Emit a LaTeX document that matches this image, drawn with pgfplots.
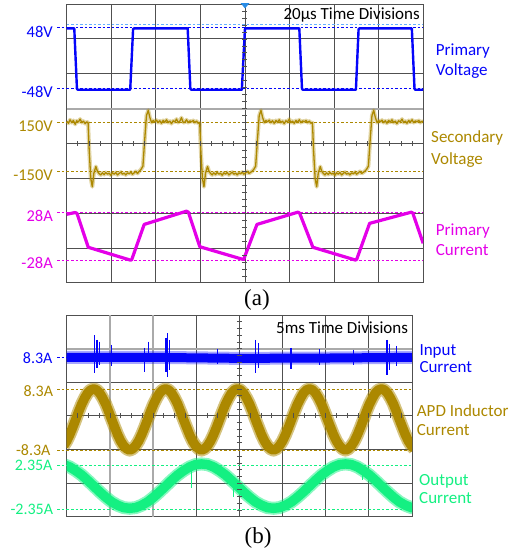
\documentclass[border=0pt]{standalone}
\usepackage{fontspec}
\setmainfont{Carlito}
\newfontfamily\seriffont{Liberation Serif}
\usepackage{pgfplots}
\pgfplotsset{compat=1.18}
\definecolor{pv}{RGB}{5,5,250}
\definecolor{sv}{RGB}{172,136,0}
\definecolor{pc}{RGB}{228,0,232}
\definecolor{oc}{RGB}{20,240,130}
\definecolor{grd}{RGB}{80,80,80}
\definecolor{lgrd}{RGB}{170,170,170}
\definecolor{trig}{RGB}{100,175,255}
\definecolor{trigm}{RGB}{40,140,230}
\newcommand\lbl{\fontsize{16.5bp}{19bp}\selectfont}
\newcommand\lblb{\fontsize{16bp}{19bp}\selectfont}
\newcommand\rlbl{\fontsize{17bp}{20bp}\selectfont}
\begin{document}
\begin{tikzpicture}
\useasboundingbox (0bp,0bp) rectangle (516bp,-552bp);
% ---------------- (a) ----------------
\begin{axis}[
 at={(66.7bp,-4bp)}, anchor=north west,
 scale only axis, width=356.5bp, height=279bp,
 xmin=0, xmax=160, ymin=-4, ymax=4,
 xtick={20,40,...,140}, ytick={-3,-2,...,3},
 xticklabels={}, yticklabels={},
 ticklabel style={opacity=0},
 major tick length=0pt,
 grid=major, grid style={grd, line width=0.8bp},
 axis line style={grd, line width=1bp},
 clip=true,
]
\draw[lgrd, line width=2bp] (axis cs:0,1) -- (axis cs:160,1);
% reference levels
\addplot[trig, line width=0.7bp, dash pattern=on 2.5bp off 2bp] coordinates {(0,3.41) (160,3.41)};
\addplot[pv, line width=0.7bp, dash pattern=on 2.5bp off 2bp] coordinates {(0,3.34) (160,3.34)};
\addplot[pv, line width=0.7bp, dash pattern=on 2.5bp off 2bp] coordinates {(0,1.583) (160,1.583)};
\addplot[sv, line width=0.7bp, dash pattern=on 2.5bp off 2bp] coordinates {(0,0.607) (160,0.607)};
\addplot[sv, line width=0.7bp, dash pattern=on 2.5bp off 2bp] coordinates {(0,-0.809) (160,-0.809)};
\addplot[pc, line width=0.7bp, dash pattern=on 2.5bp off 2bp] coordinates {(0,-1.97) (160,-1.97)};
\addplot[pc, line width=0.7bp, dash pattern=on 2.5bp off 2bp] coordinates {(0,-3.34) (160,-3.34)};
% primary voltage
\addplot[pv, line width=2.4bp, line join=round] coordinates {
(0,3.30) (3.4,3.30) (4.6,1.57) (5,1.54) (28.5,1.54) (29.8,3.28) (30.2,3.30) (54.3,3.30) (55.5,1.57) (56,1.54)
(78.6,1.54) (80,3.28) (80.4,3.30) (104.4,3.30) (105.6,1.57) (106,1.54) (129.8,1.54) (131,3.28) (131.4,3.30)
(154.9,3.30) (156.1,1.57) (156.5,1.54) (160,1.54)};
% secondary voltage (fuzz + core)
\pgfplotstableread{
t v
0 0.64
0.8 0.58
1.5 0.68
2.3 0.6
3.0 0.66
3.8 0.55
4.5 0.65
5.3 0.62
6.0 0.7
6.8 0.6
7.5 0.64
8.3 0.57
9.0 0.62
9.6 0.6
10.1 -0.2
10.8 -1.0
11.5 -1.24
12.2 -0.85
13.1 -0.66
13.8 -0.8
14.5 -0.86
15.3 -0.9
16 -0.84
16.8 -0.89
17.5 -0.83
18.3 -0.88
19 -0.85
19.8 -0.91
20.5 -0.84
21.3 -0.88
22 -0.83
22.8 -0.9
23.5 -0.86
24.3 -0.82
25 -0.88
25.8 -0.85
26.5 -0.9
27.3 -0.84
28 -0.87
28.8 -0.82
29.5 -0.88
30.3 -0.84
31 -0.8
31.8 -0.86
32.5 -0.8
33.3 -0.75
34.2 -0.65
35.0 0.1
35.8 0.8
36.6 0.95
37.3 0.75
38.1 0.6
38.8 0.66
39.5 0.62
40.3 0.67
41 0.6
41.8 0.65
42.5 0.58
43.3 0.66
44 0.61
44.8 0.68
45.5 0.6
46.3 0.64
47 0.57
47.8 0.65
48.5 0.62
49.3 0.7
50 0.6
50.8 0.64
51.5 0.74
52.3 0.6
53 0.61
53.8 0.68
54.5 0.6
55.3 0.65
56 0.62
56.8 0.66
57.5 0.6
58.3 0.64
59.0 0.58
59.7 0.6
60.2 -0.2
60.9 -1.0
61.6 -1.24
62.3 -0.85
63.2 -0.66
63.9 -0.8
64.6 -0.86
65.3 -0.9
66 -0.84
66.8 -0.89
67.5 -0.83
68.3 -0.88
69 -0.85
69.8 -0.91
70.5 -0.84
71.3 -0.88
72 -0.83
72.8 -0.9
73.5 -0.86
74.3 -0.82
75 -0.88
75.8 -0.85
76.5 -0.9
77.3 -0.84
78 -0.87
78.8 -0.82
79.5 -0.88
80.3 -0.84
81 -0.8
81.8 -0.86
83.1 -0.8
83.9 -0.75
84.8 -0.65
85.6 0.1
86.4 0.8
87.2 0.95
87.9 0.75
88.7 0.6
89.4 0.66
90.1 0.62
90.9 0.67
91.6 0.6
92.4 0.65
93.1 0.58
93.9 0.66
94.6 0.61
95.4 0.68
96.1 0.6
96.9 0.64
97.6 0.57
98.4 0.65
99.1 0.62
99.9 0.7
100.6 0.6
101.4 0.64
102.1 0.58
102.9 0.66
103.6 0.61
104.4 0.68
105.1 0.6
105.9 0.65
106.6 0.62
107.4 0.66
108.1 0.6
108.9 0.64
109.6 0.58
110.3 0.6
110.8 -0.2
111.5 -1.0
112.2 -1.24
112.9 -0.85
113.8 -0.66
114.5 -0.8
115.2 -0.86
115.9 -0.9
116.6 -0.84
117.4 -0.89
118.1 -0.83
118.9 -0.88
119.6 -0.85
120.4 -0.91
121.1 -0.84
121.9 -0.88
122.6 -0.83
123.4 -0.9
124.1 -0.86
124.9 -0.82
125.6 -0.88
126.4 -0.85
127.1 -0.9
127.9 -0.84
128.6 -0.87
129.4 -0.82
130.1 -0.88
130.9 -0.84
131.6 -0.8
132.4 -0.86
133.7 -0.8
134.5 -0.75
135.4 -0.65
136.2 0.1
137 0.8
137.8 0.95
138.5 0.75
139.3 0.6
140 0.66
140.7 0.62
141.5 0.67
142.2 0.6
143 0.65
143.7 0.58
144.5 0.66
145.2 0.61
146 0.68
146.7 0.6
147.5 0.64
148.2 0.57
149 0.65
149.7 0.62
150.5 0.7
151.2 0.6
152 0.64
152.7 0.58
153.5 0.66
154.2 0.61
155 0.68
155.7 0.6
156.5 0.65
157.2 0.62
158 0.66
158.7 0.6
159.5 0.64
160 0.62
}\secv
\addplot[sv, opacity=0.35, line width=4bp, line join=round] table[x=t,y=v] {\secv};
\addplot[sv, line width=1.3bp, line join=round] table[x=t,y=v] {\secv};
% primary current
\addplot[pc, line width=3.2bp, line join=round] coordinates {
(0,-2.03) (3.72,-1.98) (4.6,-2.0) (9.68,-2.976) (28.37,-3.34) (29.13,-3.34) (34.78,-2.32) (53.79,-1.94)
(54.6,-1.97) (59.75,-2.96) (78.9,-3.32) (79.5,-3.31) (85.4,-2.32) (103.7,-1.97) (104.5,-1.99) (110.5,-2.976)
(129.5,-3.34) (130.1,-3.33) (135.95,-2.29) (154.6,-1.97) (155.3,-1.99) (159.7,-2.81) (160,-2.86)};
\end{axis}
% center minor ticks (a)
\foreach \i in {1,...,39} {\draw[grd, line width=0.7bp] (242.45bp,{-(4+\i*6.975)*1bp}) -- (247.45bp,{-(4+\i*6.975)*1bp});}
\foreach \i in {1,...,31} {\draw[grd, line width=0.7bp] ({(66.7+\i*11.14)*1bp},-141bp) -- ({(66.7+\i*11.14)*1bp},-146bp);}
\fill[trigm] (240.5bp,-3bp) -- (249.5bp,-3bp) -- (245bp,-8.5bp) -- cycle;
% leaders (a)
\foreach \yy/\cc in {27/pv,88.3/pv,122.3/sv,171.7/sv,212.3/pc,260/pc} {\draw[\cc, line width=0.7bp, dash pattern=on 2.5bp off 2bp] (57bp,-\yy bp) -- (66.7bp,-\yy bp);}
% labels (a)
\node[anchor=base east, inner sep=0, text=pv, font=\lbl] at (53bp,-37.3bp) {48V};
\node[anchor=base east, inner sep=0, text=pv, font=\lbl] at (53bp,-97bp) {-48V};
\node[anchor=base east, inner sep=0, text=sv, font=\lbl] at (53bp,-131bp) {150V};
\node[anchor=base east, inner sep=0, text=sv, font=\lbl] at (53bp,-180.5bp) {-150V};
\node[anchor=base east, inner sep=0, text=pc, font=\lbl] at (53bp,-221.2bp) {28A};
\node[anchor=base east, inner sep=0, text=pc, font=\lbl] at (53bp,-268.9bp) {-28A};
\node[anchor=base east, inner sep=0, font=\rlbl] at (420bp,-19.5bp) {20µs Time Divisions};
\node[anchor=base west, inner sep=0, text=pv, font=\rlbl] at (435.7bp,-55.5bp) {Primary};
\node[anchor=base west, inner sep=0, text=pv, font=\rlbl] at (435.7bp,-75bp) {Voltage};
\node[anchor=base west, inner sep=0, text=sv, font=\rlbl] at (431bp,-142.7bp) {Secondary};
\node[anchor=base west, inner sep=0, text=sv, font=\rlbl] at (431bp,-164.3bp) {Voltage};
\node[anchor=base west, inner sep=0, text=pc, font=\rlbl] at (435.7bp,-235bp) {Primary};
\node[anchor=base west, inner sep=0, text=pc, font=\rlbl] at (435.7bp,-255bp) {Current};
\node[anchor=base, inner sep=0, font=\seriffont\fontsize{23bp}{26bp}\selectfont] at (257bp,-305bp) {(a)};
% ---------------- (b) ----------------
\begin{axis}[
 at={(66.7bp,-315bp)}, anchor=north west,
 scale only axis, width=345.3bp, height=201.7bp,
 xmin=0, xmax=40, ymin=-3, ymax=3,
 xtick={5,10,...,35}, ytick={-2,-1,...,2},
 xticklabels={}, yticklabels={},
 ticklabel style={opacity=0},
 major tick length=0pt,
 grid=major, grid style={grd, line width=0.8bp},
 axis line style={grd, line width=1bp},
 clip=true, unbounded coords=jump,
]
\draw[lgrd, line width=2bp] (axis cs:0,2) -- (axis cs:40,2);
\draw[lgrd, line width=2bp] (axis cs:5,-3) -- (axis cs:5,3);
\draw[lgrd, line width=1.6bp] (axis cs:10,-3) -- (axis cs:10,3);
\addplot[pv, line width=0.7bp, dash pattern=on 2.5bp off 2bp] coordinates {(0,1.742) (40,1.742)};
\addplot[sv, line width=0.7bp, dash pattern=on 2.5bp off 2bp] coordinates {(0,0.79) (40,0.79)};
\addplot[sv, line width=0.7bp, dash pattern=on 2.5bp off 2bp] coordinates {(0,-1.015) (40,-1.015)};
\addplot[oc, line width=0.7bp, dash pattern=on 2.5bp off 2bp] coordinates {(0,-1.462) (40,-1.462)};
\addplot[oc, line width=0.7bp, dash pattern=on 2.5bp off 2bp] coordinates {(0,-2.78) (40,-2.78)};
% input current
\addplot[pv, opacity=0.35, line width=13bp] coordinates {(0,1.74) (10,1.74) (20,1.71) (30,1.72) (40,1.74)};
\addplot[pv, line width=9bp] coordinates {(0,1.74) (10,1.74) (20,1.71) (30,1.72) (40,1.74)};
\addplot[pv, line width=1.3bp] coordinates {
(3.2,2.40) (3.2,1.27) (nan,nan) (3.5,2.26) (3.5,1.42) (nan,nan) (3.8,2.21) (3.8,1.51) (nan,nan)
(5.2,2.11) (5.2,1.48) (nan,nan) (9.05,2.02) (9.05,1.31) (nan,nan) (9.45,2.21) (9.45,1.6) (nan,nan)
(11.5,2.32) (11.5,1.3) (nan,nan) (11.7,2.46) (11.7,1.17) (nan,nan) (11.9,2.26) (11.9,1.36) (nan,nan)
(17.5,2.0) (17.5,1.55) (nan,nan) (21.9,2.26) (21.9,1.27) (nan,nan) (22.2,2.17) (22.2,1.42) (nan,nan)
(26.0,2.02) (26.0,1.39) (nan,nan) (29.3,1.98) (29.3,1.5) (nan,nan) (33.2,1.97) (33.2,1.5) (nan,nan)
(37.1,2.26) (37.1,1.22) (nan,nan) (37.4,2.14) (37.4,1.35) (nan,nan) (38.2,2.08) (38.2,1.48)};
% APD inductor current
\pgfplotstableread{
t v
-0.35 -0.89
0.00 -0.75
0.35 -0.56
0.70 -0.34
1.04 -0.11
1.39 0.13
1.74 0.35
2.08 0.53
2.43 0.68
2.78 0.77
3.13 0.80
3.47 0.77
3.82 0.68
4.17 0.53
4.52 0.35
4.86 0.13
5.21 -0.11
5.56 -0.34
5.90 -0.56
6.25 -0.75
6.60 -0.89
6.95 -0.98
7.29 -1.02
7.64 -0.98
7.98 -0.89
8.33 -0.75
8.68 -0.56
9.03 -0.34
9.37 -0.11
9.72 0.13
10.07 0.35
10.42 0.53
10.76 0.68
11.11 0.77
11.46 0.80
11.80 0.77
12.15 0.68
12.50 0.53
12.85 0.35
13.19 0.13
13.54 -0.11
13.89 -0.34
14.23 -0.56
14.58 -0.75
14.93 -0.89
15.28 -0.98
15.62 -1.02
15.97 -0.98
16.31 -0.89
16.66 -0.75
17.01 -0.56
17.36 -0.34
17.70 -0.11
18.05 0.13
18.40 0.35
18.75 0.53
19.09 0.68
19.44 0.77
19.79 0.80
20.13 0.77
20.48 0.68
20.83 0.53
21.18 0.35
21.52 0.13
21.87 -0.11
22.22 -0.34
22.56 -0.56
22.91 -0.75
23.26 -0.89
23.61 -0.98
23.96 -1.02
24.31 -0.98
24.65 -0.89
25.00 -0.75
25.35 -0.56
25.70 -0.34
26.04 -0.11
26.39 0.13
26.74 0.35
27.09 0.53
27.43 0.68
27.78 0.77
28.13 0.80
28.47 0.77
28.82 0.68
29.17 0.53
29.52 0.35
29.86 0.13
30.21 -0.11
30.56 -0.34
30.90 -0.56
31.25 -0.75
31.60 -0.89
31.95 -0.98
32.29 -1.02
32.64 -0.98
32.98 -0.89
33.33 -0.75
33.68 -0.56
34.03 -0.34
34.37 -0.11
34.72 0.13
35.07 0.35
35.42 0.53
35.76 0.68
36.11 0.77
36.46 0.80
36.80 0.77
37.15 0.68
37.50 0.53
37.85 0.35
38.19 0.13
38.54 -0.11
38.89 -0.34
39.23 -0.56
39.58 -0.75
39.93 -0.89
40.28 -0.98
}\apd
\addplot[sv, opacity=0.5, line width=13bp, line join=round] table[x=t,y=v] {\apd};
\addplot[sv, line width=9.5bp, line join=round] table[x=t,y=v] {\apd};
% output current
\pgfplotstableread{
t v
-0.35 -1.45
0.35 -1.52
1.04 -1.63
1.74 -1.76
2.43 -1.92
3.13 -2.09
3.82 -2.26
4.52 -2.42
5.21 -2.56
5.90 -2.66
6.60 -2.73
7.29 -2.75
7.99 -2.73
8.68 -2.66
9.38 -2.56
10.07 -2.42
10.76 -2.26
11.46 -2.09
12.15 -1.92
12.85 -1.76
13.54 -1.63
14.24 -1.52
14.93 -1.45
15.62 -1.43
16.32 -1.45
17.01 -1.52
17.71 -1.63
18.40 -1.76
19.09 -1.92
19.79 -2.09
20.48 -2.26
21.18 -2.42
21.87 -2.56
22.57 -2.66
23.26 -2.73
23.96 -2.75
24.65 -2.73
25.35 -2.66
26.04 -2.56
26.73 -2.42
27.43 -2.26
28.12 -2.09
28.82 -1.92
29.51 -1.76
30.21 -1.63
30.90 -1.52
31.60 -1.45
32.29 -1.43
32.98 -1.45
33.68 -1.52
34.37 -1.63
35.07 -1.76
35.76 -1.92
36.46 -2.09
37.15 -2.26
37.85 -2.42
38.54 -2.56
39.23 -2.66
39.93 -2.73
40.62 -2.75
}\outc
\addplot[oc, opacity=0.5, line width=13bp, line join=round] table[x=t,y=v] {\outc};
\addplot[oc, line width=9.5bp, line join=round] table[x=t,y=v] {\outc};
\addplot[oc, line width=1.2bp] coordinates {
(14.5,-1.60) (14.5,-2.14) (nan,nan) (19.3,-2.0) (19.3,-2.42) (nan,nan) (28.1,-1.95) (28.1,-2.3) (nan,nan) (34.3,-1.55) (34.3,-1.9)};
\end{axis}
% center minor ticks (b)
\foreach \i in {1,...,29} {\draw[grd, line width=0.7bp] (236.85bp,{-(315+\i*6.723)*1bp}) -- (241.85bp,{-(315+\i*6.723)*1bp});}
\foreach \i in {1,...,31} {\draw[grd, line width=0.7bp] ({(66.7+\i*10.79)*1bp},-413.35bp) -- ({(66.7+\i*10.79)*1bp},-418.35bp);}
% leaders (b)
\foreach \yy/\cc in {357.3/pv,389.3/sv,450/sv,465/oc,509.3/oc} {\draw[\cc, line width=0.7bp, dash pattern=on 2.5bp off 2bp] (57bp,-\yy bp) -- (66.7bp,-\yy bp);}
% labels (b)
\node[anchor=base east, inner sep=0, text=pv, font=\lblb] at (52.7bp,-363.3bp) {8.3A};
\node[anchor=base east, inner sep=0, text=sv, font=\lblb] at (53.3bp,-396.7bp) {8.3A};
\node[anchor=base east, inner sep=0, text=sv, font=\lblb] at (50.7bp,-455.3bp) {-8.3A};
\node[anchor=base east, inner sep=0, text=oc, font=\lblb] at (52.7bp,-470.8bp) {2.35A};
\node[anchor=base east, inner sep=0, text=oc, font=\lblb] at (53.3bp,-514bp) {-2.35A};
\node[anchor=base west, inner sep=0, font=\rlbl] at (276bp,-333.3bp) {5ms Time Divisions};
\node[anchor=base west, inner sep=0, text=pv, font=\rlbl] at (419.3bp,-355bp) {Input};
\node[anchor=base west, inner sep=0, text=pv, font=\rlbl] at (419.3bp,-372.7bp) {Current};
\node[anchor=base west, inner sep=0, text=sv, font=\rlbl] at (416.7bp,-416.7bp) {APD Inductor};
\node[anchor=base west, inner sep=0, text=sv, font=\rlbl] at (416.7bp,-435bp) {Current};
\node[anchor=base west, inner sep=0, text=oc, font=\rlbl] at (419bp,-485.7bp) {Output};
\node[anchor=base west, inner sep=0, text=oc, font=\rlbl] at (419bp,-503.3bp) {Current};
\node[anchor=base, inner sep=0, font=\seriffont\fontsize{23bp}{26bp}\selectfont] at (258bp,-543bp) {(b)};
\end{tikzpicture}
\end{document}
